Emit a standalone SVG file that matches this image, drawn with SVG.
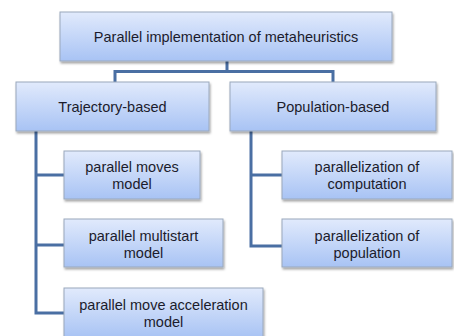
<svg xmlns="http://www.w3.org/2000/svg" width="454" height="336" viewBox="0 0 454 336">
<defs>
<linearGradient id="g" x1="0" y1="0" x2="0" y2="1">
<stop offset="0" stop-color="#e1eafc"/>
<stop offset="1" stop-color="#a8c3f4"/>
</linearGradient>
<filter id="sh" x="-10%" y="-10%" width="120%" height="130%">
<feDropShadow dx="1" dy="2" stdDeviation="1.2" flood-color="#000" flood-opacity="0.35"/>
</filter>
</defs>
<style>
.box{fill:url(#g);stroke:#9aa8bc;stroke-width:1;filter:url(#sh)}
.t{font-family:"Liberation Sans",Arial,sans-serif;font-size:14.5px;fill:#1c1c2c;text-anchor:middle}
.c{fill:none;stroke:#4a6fa3;stroke-width:3}
</style>
<rect width="454" height="336" fill="#fff"/>
<g id="connectors">
<path class="c" d="M227,61 V71.5 M115,82 V71.5 H333 V82"/>
<path class="c" d="M36,131 V313 H64 M36,175 H64 M36,245 H64"/>
<path class="c" d="M251,131 V246 H282 M251,175 H282"/>
</g>
<g id="root">
<rect class="box" x="60" y="12" width="332" height="49"/>
<text class="t" x="226" y="41.5">Parallel implementation of metaheuristics</text>
</g>
<g id="trajectory">
<rect class="box" x="16" y="82" width="193" height="49"/>
<text class="t" x="112.5" y="111.5">Trajectory-based</text>
</g>
<g id="population">
<rect class="box" x="230" y="82" width="206" height="49"/>
<text class="t" x="333" y="111.5">Population-based</text>
</g>
<g id="moves">
<rect class="box" x="64" y="151" width="136" height="48"/>
<text class="t" x="132" y="172">parallel moves</text>
<text class="t" x="132" y="189">model</text>
</g>
<g id="multistart">
<rect class="box" x="64" y="219" width="159" height="48"/>
<text class="t" x="143.5" y="241">parallel multistart</text>
<text class="t" x="143.5" y="258">model</text>
</g>
<g id="acceleration">
<rect class="box" x="64" y="288" width="199" height="50"/>
<text class="t" x="163.5" y="310">parallel move acceleration</text>
<text class="t" x="163.5" y="327">model</text>
</g>
<g id="computation">
<rect class="box" x="282" y="151" width="170" height="48"/>
<text class="t" x="367" y="172">parallelization of</text>
<text class="t" x="367" y="189">computation</text>
</g>
<g id="popul">
<rect class="box" x="282" y="219" width="170" height="48"/>
<text class="t" x="367" y="241">parallelization of</text>
<text class="t" x="367" y="258">population</text>
</g>
</svg>
